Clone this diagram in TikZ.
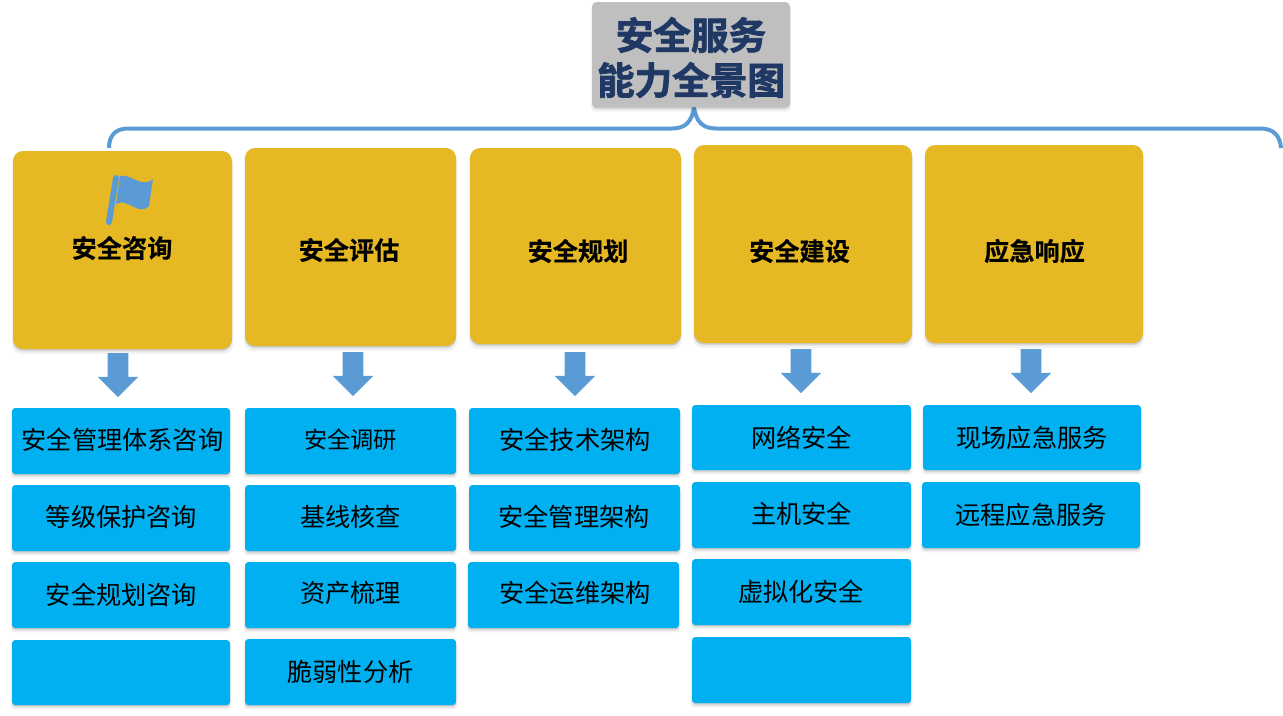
\documentclass[tikz,border=0pt]{standalone}
\usepackage{fontspec}
\setmainfont{Noto Sans CJK SC}
\newfontfamily\cjkreg{Noto Sans CJK SC}
\newfontfamily\cjkbold[FakeBold=0.3]{Noto Sans CJK SC Bold}
\newfontfamily\cjkheavy[FakeBold=2]{Noto Sans CJK SC Bold}
\usetikzlibrary{shapes.arrows,shadows,positioning}
\definecolor{brace}{HTML}{5B9BD5}
\definecolor{gold}{HTML}{E6B823}
\definecolor{leafblue}{HTML}{00B0F0}
\definecolor{titlegrey}{HTML}{BFBFBF}
\definecolor{titleblue}{HTML}{1F3864}
\tikzset{
  x=0.75pt,y=-0.75pt,
  softshadow/.style={
    general shadow={fill=black,opacity=.05,shadow yshift=-3pt,shadow scale=1.012},
    general shadow={fill=black,opacity=.08,shadow yshift=-2pt},
    general shadow={fill=black,opacity=.10,shadow yshift=-1pt}},
  panel/.style={draw=none,inner sep=0pt,outer sep=0pt,softshadow},
  goldbox/.style={panel,fill=gold,rounded corners=7.5pt},
  leafbox/.style={panel,fill=leafblue,rounded corners=2.5pt},
  titlebox/.style={panel,fill=titlegrey,rounded corners=3.5pt},
  goldtext/.style={font=\cjkbold\fontsize{18.9pt}{22pt}\selectfont,text=black,inner sep=0pt},
  leaftext/.style={font=\cjkreg\fontsize{18.9pt}{22pt}\selectfont,text=black,inner sep=0pt},
  smalltext/.style={font=\cjkreg\fontsize{17.4pt}{22pt}\selectfont,text=black,inner sep=0pt},
  titletext/.style={font=\cjkheavy\fontsize{28.2pt}{33.75pt}\selectfont,text=titleblue,align=center,inner sep=0pt},
  downarrow/.style={single arrow,shape border rotate=270,fill=brace,draw=none,inner sep=0pt,outer sep=0pt,
    minimum height=33pt,single arrow head extend=7.5pt,single arrow head indent=0pt,single arrow tip angle=90},
  bracket/.style={draw=brace,line width=3pt,line cap=butt},
}
\newcommand{\boxat}[6]{\path[#2] (#3,#4) rectangle (#5,#6) node[pos=.5,inner sep=0pt] (#1) {};}
\newcommand{\shaftbox}{\phantom{\rule{15pt}{15pt}}}
\begin{document}
\begin{tikzpicture}
\useasboundingbox (0,0) rectangle (1283,715);
% brace
\coordinate (bl) at (109,148);
\coordinate (bt) at (694,107);
\coordinate (br) at (1281,148);
\draw[bracket] (bl) .. controls (109,135) and (116,128.5) .. (128,128.5) -- (672,128.5)
  .. controls (685,128.5) and (692,122) .. (bt)
  .. controls (696,122) and (703,128.5) .. (716,128.5) -- (1260,128.5)
  .. controls (1273,128.5) and (1280,135) .. (br);
% title
\boxat{title}{titlebox}{592}{2}{790}{107}
\node[titletext] (titlelabel) at (691,57.5) {安全服务\\能力全景图};
% gold boxes
\boxat{g1}{goldbox}{13}{151}{232}{349}
\boxat{g2}{goldbox}{245}{148}{456}{346}
\boxat{g3}{goldbox}{470}{148}{681}{344}
\boxat{g4}{goldbox}{694}{145}{912}{343}
\boxat{g5}{goldbox}{925}{145}{1143}{343}
\node[goldtext] (gt1) at (122,248) {安全咨询};
\node[goldtext] (gt2) at (349,250) {安全评估};
\node[goldtext] (gt3) at (578,251) {安全规划};
\node[goldtext] (gt4) at (799.5,251) {安全建设};
\node[goldtext] (gt5) at (1034.5,251) {应急响应};
% flag
\draw[brace,line width=4.5pt,line cap=round] (116,178) -- (109,222);
\fill[brace] (120,176) .. controls (130,173) and (142,189) .. (153,179)
  -- (149,206) .. controls (139,217) and (127,197) .. (116,204) -- cycle;
% arrows
\node[downarrow] (a1) at (118,370) {\shaftbox};
\node[downarrow] (a2) at (353,369) {\shaftbox};
\node[downarrow] (a3) at (575,369) {\shaftbox};
\node[downarrow] (a4) at (801,366) {\shaftbox};
\node[downarrow] (a5) at (1031,366) {\shaftbox};
% leaves col 1
\boxat{l11}{leafbox}{12}{408}{230}{474}
\boxat{l12}{leafbox}{12}{485}{230}{551}
\boxat{l13}{leafbox}{12}{562}{230}{628}
\boxat{l14}{leafbox}{12}{640}{230}{705}
\node[leaftext] (t11) at (122.5,440) {安全管理体系咨询};
\node[leaftext] (t12) at (121.5,517) {等级保护咨询};
\node[leaftext] (t13) at (121.5,595) {安全规划咨询};
% col 2
\boxat{l21}{leafbox}{245}{408}{456}{474}
\boxat{l22}{leafbox}{245}{485}{456}{551}
\boxat{l23}{leafbox}{245}{562}{456}{628}
\boxat{l24}{leafbox}{245}{639}{456}{705}
\node[smalltext] (t21) at (350.5,440) {安全调研};
\node[leaftext] (t22) at (350.5,517) {基线核查};
\node[leaftext] (t23) at (350.5,592.5) {资产梳理};
\node[leaftext] (t24) at (350.5,672) {脆弱性分析};
% col 3
\boxat{l31}{leafbox}{469}{408}{680}{474}
\boxat{l32}{leafbox}{469}{485}{680}{551}
\boxat{l33}{leafbox}{468}{562}{679}{628}
\node[leaftext] (t31) at (575,440) {安全技术架构};
\node[leaftext] (t32) at (574,517) {安全管理架构};
\node[leaftext] (t33) at (575,592.5) {安全运维架构};
% col 4
\boxat{l41}{leafbox}{692}{405}{911}{470}
\boxat{l42}{leafbox}{692}{482}{911}{548}
\boxat{l43}{leafbox}{692}{559}{911}{625}
\boxat{l44}{leafbox}{692}{637}{911}{703}
\node[leaftext] (t41) at (801.5,438) {网络安全};
\node[leaftext] (t42) at (801.5,514) {主机安全};
\node[leaftext] (t43) at (801,591.5) {虚拟化安全};
% col 5
\boxat{l51}{leafbox}{923}{405}{1141}{470}
\boxat{l52}{leafbox}{922}{482}{1140}{548}
\node[leaftext] (t51) at (1032,438) {现场应急服务};
\node[leaftext] (t52) at (1031,515) {远程应急服务};
\end{tikzpicture}
\end{document}
